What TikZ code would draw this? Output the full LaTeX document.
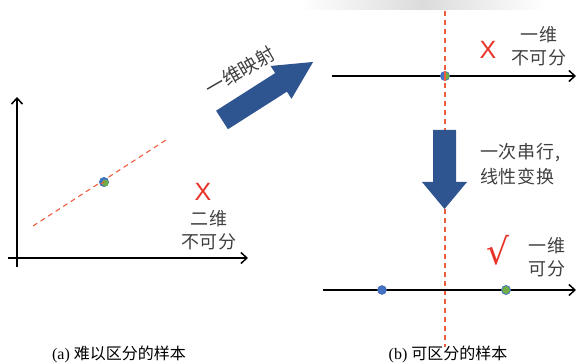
\documentclass[tikz,border=0pt]{standalone}
\usepackage{fontspec}
\setmainfont{Liberation Serif}
\newfontfamily\cjk{Noto Sans CJK SC}
\newfontfamily\cjkl[LetterSpace=4]{Noto Sans CJK SC}
\newfontfamily\symf{DejaVu Sans}
\newfontfamily\lsans{Liberation Sans}
\usetikzlibrary{arrows.meta}
\definecolor{arrowblue}{RGB}{47,85,145}
\definecolor{ptblue}{RGB}{68,114,196}
\definecolor{ptgreen}{RGB}{112,173,71}
\definecolor{markred}{RGB}{232,52,40}
\definecolor{dashred}{RGB}{238,92,62}
\definecolor{labelgray}{RGB}{64,64,64}
\tikzset{
  axis/.style={line width=1.5pt, black, -{Straight Barb[length=6pt,width=11pt,line width=1.5pt]}},
  sepline/.style={dashred, line width=1.1pt, dash pattern=on 5pt off 4pt},
  lbl/.style={font=\cjkl\fontsize{18}{23}\selectfont, text=labelgray, inner sep=0pt},
  xmark/.style={font=\lsans\fontsize{25}{25}\selectfont, text=markred, inner sep=0pt},
  capt/.style={font=\fontsize{16}{18}\selectfont, text=black, inner sep=0pt},
  bigarrow/.style={fill=arrowblue, draw=none},
}
\begin{document}
\begin{tikzpicture}[x=1pt,y=1pt]
\useasboundingbox (0,0) rectangle (577,363);
% faint artifact at top
\shade[left color=white, right color=white, middle color=gray!28] (300,353) rectangle (545,363);
% ---------- left panel ----------
\coordinate (yb) at (17,96);
\coordinate (yt) at (17,266);
\coordinate (xl) at (8,105);
\coordinate (xr) at (248,105);
\draw[axis] (yb) -- (yt);
\draw[axis] (xl) -- (xr);
\coordinate (d1) at (33,137);
\coordinate (d2) at (166,223);
\draw[sepline] (d1) -- (d2);
\node[circle, fill=ptblue, minimum size=10pt, inner sep=0pt] (pA) at (104,181) {};
\fill[ptgreen] (105.3,180) circle (3.4pt);
\draw[dashred, line width=1pt] (101,179) -- (104.5,181.3);
\node[xmark] (xA) at (203,171) {X};
\node[lbl, align=center] (l2) at (209,132.5) {二维\\不可分};
% diagonal mapping arrow
\begin{scope}[shift={(222,243)}, rotate=32.5]
\path[bigarrow] (0,-11) -- (70,-11) -- (70,-19.5) -- (108,0) -- (70,19.5) -- (70,11) -- (0,11) -- cycle;
\end{scope}
\node[font=\cjk\fontsize{19}{20}\selectfont, text=labelgray, inner sep=0pt, rotate=30] (lmap) at (240,292) {一维映射};
% ---------- right panel ----------
\coordinate (vt) at (445,352);
\coordinate (vb) at (445,16);
\draw[sepline] (vt) -- (vb);
\coordinate (tl) at (332,287);
\coordinate (tr) at (576,287);
\draw[axis] (tl) -- (tr);
\node[circle, fill=ptblue, minimum size=10pt, inner sep=0pt] (pB) at (445,287) {};
\begin{scope}
\clip (445,282) rectangle (452,292);
\fill[ptgreen] (445.5,287) circle (4pt);
\end{scope}
\draw[dashred, line width=1.1pt] (445,282) -- (445,292);
\node[xmark] (xB) at (488,313) {X};
\node[lbl, align=center] (l1) at (539,316.5) {一维\\不可分};
% down arrow
\path[bigarrow] (433,233) -- (456,233) -- (456,181) -- (467,181) -- (444.5,154) -- (422,181) -- (433,181) -- cycle;
\node[lbl, font=\cjkl\fontsize{18}{25}\selectfont, align=left, anchor=west] (ltr) at (480,198.5) {一次串行,\\线性变换};
% bottom axis
\coordinate (bl) at (323,73);
\coordinate (br) at (576,73);
\draw[axis] (bl) -- (br);
\node[circle, fill=ptblue, draw=ptblue!80!black, line width=0.4pt, minimum size=9pt, inner sep=0pt] (pC) at (382,73) {};
\node[circle, fill=ptgreen, draw=ptblue, line width=0.8pt, minimum size=9pt, inner sep=0pt] (pD) at (506,73) {};
\node[font=\symf\fontsize{36}{36}\selectfont, text=markred, inner sep=0pt] (chk) at (498,113) {√};
\node[lbl, align=center] (l3) at (547,105.5) {一维\\可分};
% captions
\node[capt] (capa) at (119,9) {(a) {\cjk 难以区分的样本}};
\node[capt] (capb) at (448,9) {(b) {\cjk 可区分的样本}};
\end{tikzpicture}
\end{document}
